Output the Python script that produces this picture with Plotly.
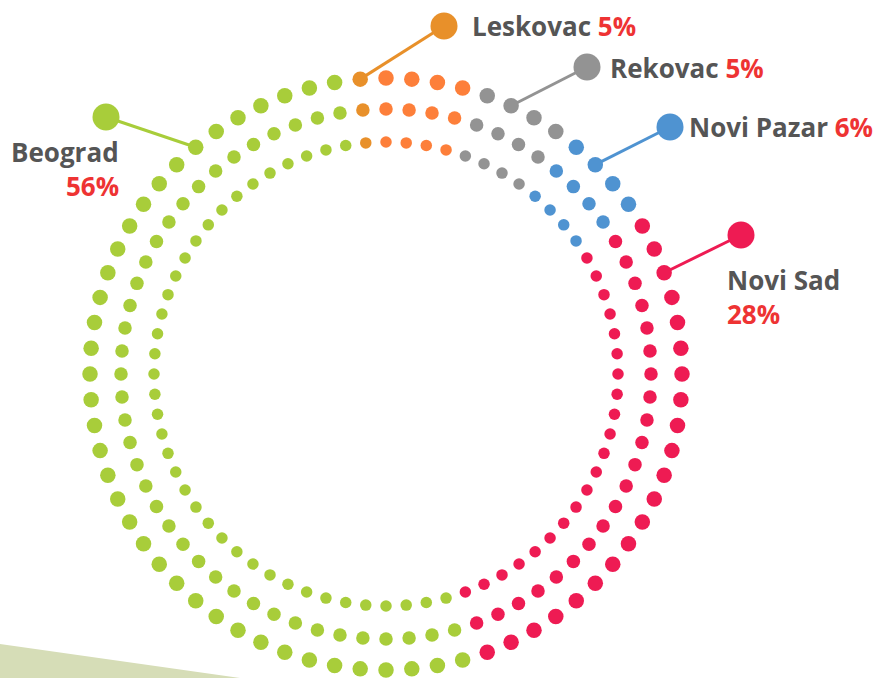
import plotly.graph_objects as go
import math

# ---- data ----
cities = ["Leskovac", "Rekovac", "Novi Pazar", "Novi Sad", "Beograd"]
shares = [5, 5, 6, 28, 56]              # percent labels
dots_per_city = [5, 4, 4, 21, 38]       # dots per ring for each city (72 total)
colors = ["#fd7f3a", "#939393", "#4f93d1", "#ee1b53", "#a8cd3a"]
accents = ["#e8902a", "#939393", "#4f93d1", "#ee1b53", "#a8cd3a"]

# ---- geometry / style ----
W, H = 876, 678
CX, CY = 386, 374
RINGS = [(296, 15.5), (265, 13.5), (232, 11.5)]   # (radius px, dot size)
STEP = 5.0
START = -5.0
NAME_COLOR = "#555555"
PCT_COLOR = "#ee3333"
FONT = "Open Sans"
FS = 26

def pol(r, deg):
    a = math.radians(deg)
    return r * math.sin(a), r * math.cos(a)

fig = go.Figure()

# background wedge (bottom-left)
fig.add_shape(type="path", xref="paper", yref="paper",
              path=f"M 0 {1 - 644 / H} L {240 / W} 0 L 0 0 Z",
              fillcolor="#d6ddb7", line=dict(width=0), layer="below")

# leader lines: (city index, dot index within city on outer ring, anchor pixel)
leaders = [
    (0, 0, (444, 26)),
    (1, 1, (587, 67)),
    (2, 1, (670, 127)),
    (3, 2, (741, 235)),
    (4, 31, (106, 117)),
]
offsets = [sum(dots_per_city[:i]) for i in range(len(dots_per_city))]
for ci, j, (px, py) in leaders:
    k = offsets[ci] + j
    x0, y0 = pol(RINGS[0][0], START + STEP * k)
    x1, y1 = px - CX, CY - py
    fig.add_trace(go.Scatter(x=[x0, x1], y=[y0, y1], mode="lines",
                             line=dict(color=accents[ci], width=3),
                             hoverinfo="skip", showlegend=False))
    fig.add_trace(go.Scatter(x=[x1], y=[y1], mode="markers",
                             marker=dict(size=27, color=accents[ci], opacity=1,
                                         line=dict(width=0)),
                             hoverinfo="skip", showlegend=False))

# dots
for r, size in RINGS:
    xs, ys, cs = [], [], []
    k = 0
    for ci, n in enumerate(dots_per_city):
        for j in range(n):
            x, y = pol(r, START + STEP * k)
            xs.append(x); ys.append(y)
            cs.append(accents[ci] if (j == 0 and ci == 0) else colors[ci])
            k += 1
    fig.add_trace(go.Scatter(x=xs, y=ys, mode="markers",
                             marker=dict(size=size, color=cs, opacity=1,
                                         line=dict(width=0)),
                             hoverinfo="skip", showlegend=False))

def ann(text, px, py, xanchor):
    fig.add_annotation(x=px - CX, y=CY - py, xref="x", yref="y", text=text,
                       showarrow=False, xanchor=xanchor, yanchor="middle",
                       font=dict(family=FONT, size=FS, color=NAME_COLOR))

def pct(i):
    return f"<span style='color:{PCT_COLOR}'><b>{shares[i]}%</b></span>"

ann(f"<b>{cities[0]}</b> " + pct(0), 470, 26, "left")
ann(f"<b>{cities[1]}</b> " + pct(1), 608, 68, "left")
ann(f"<b>{cities[2]}</b> " + pct(2), 687, 127, "left")
ann(f"<b>{cities[3]}</b>", 725, 280, "left")
ann(pct(3), 725, 314, "left")
ann(f"<b>{cities[4]}</b>", 121, 152, "right")
ann(pct(4), 121, 186, "right")

fig.update_layout(
    width=W, height=H, margin=dict(l=0, r=0, t=0, b=0),
    paper_bgcolor="white", plot_bgcolor="rgba(0,0,0,0)",
    xaxis=dict(range=[-CX, W - CX], visible=False, fixedrange=True),
    yaxis=dict(range=[CY - H, CY], visible=False, fixedrange=True),
    showlegend=False,
)

fig.write_html("out.html", config={"displayModeBar": False},
               post_script="document.body.style.margin='0';document.body.style.overflow='hidden';")
